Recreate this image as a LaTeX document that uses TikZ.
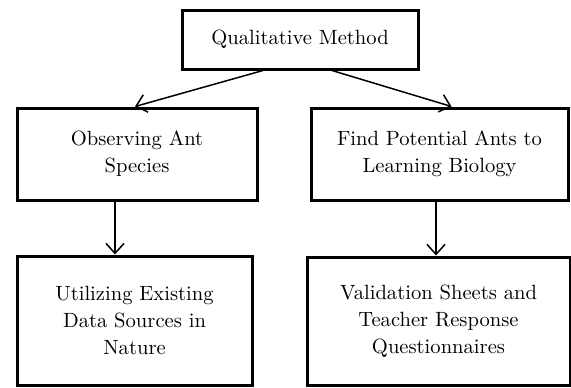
\documentclass[tikz,border=0pt]{standalone}
\usepackage{tikz, xcolor}
\usetikzlibrary{arrows.meta}

\begin{document}
\begin{tikzpicture}[x=0.5pt, y=-0.5pt,
    box/.style={draw, line width=1.5pt, align=center, inner sep=0pt,
        font=\fontsize{10.3pt}{13.5pt}\selectfont},
    link/.style={line width=0.75pt},
    >={Straight Barb[length=5pt, width=9pt]}]

    \useasboundingbox (0,0) rectangle (571,387);

    \node[box, minimum width=118pt, minimum height=29.5pt] (qm) at (300,39.5) {Qualitative Method};

    \node[box, minimum width=120pt, minimum height=46pt] (obs) at (137,154) {Observing Ant\\Species};
    \node[box, minimum width=128.5pt, minimum height=46pt] (find) at (439.5,154) {Find Potential Ants to\\Learning Biology};

    \node[box, minimum width=117.5pt, minimum height=64.5pt] (util) at (134.5,320.5) {Utilizing Existing\\Data Sources in\\Nature};
    \node[box, minimum width=131.5pt, minimum height=64pt] (valid) at (438.5,321) {Validation Sheets and\\Teacher Response\\Questionnaires};

    \draw[link, ->] ([xshift=-18.5pt]qm.south) -- ([xshift=-1pt]obs.north);
    \draw[link, ->] ([xshift=16pt]qm.south) -- ([xshift=6pt]find.north);

    \draw[link, ->] ([xshift=-11pt]obs.south) -- ([xshift=-11pt]obs.south |- util.north);
    \draw[link, ->] ([xshift=-1.75pt]find.south) -- ([xshift=-1.75pt]find.south |- valid.north);

\end{tikzpicture}
\end{document}
